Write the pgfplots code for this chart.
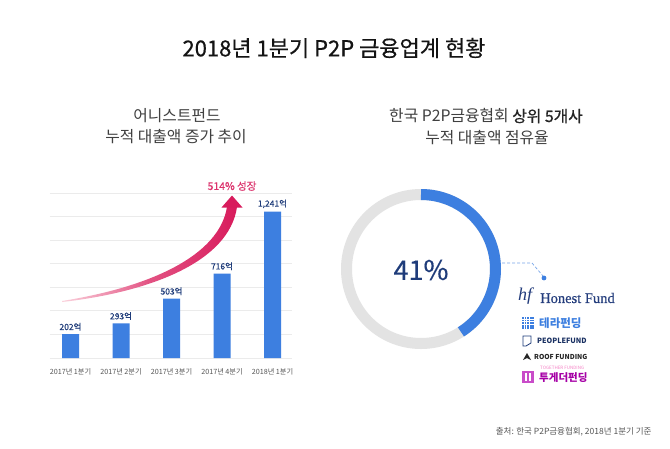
\documentclass[border=0pt]{standalone}
\usepackage{pgfplots}
\pgfplotsset{compat=1.18}
\usepackage{fontspec}
\setmainfont{Noto Sans CJK KR}
\newfontfamily\medfont[FakeBold=0.45]{Noto Sans CJK KR}
\newfontfamily\boldish[FakeBold=0.9]{Noto Sans CJK KR}
\newfontfamily\seriff{Liberation Serif}
\newfontfamily\seriffmed[FakeBold=0.5]{Liberation Serif}
\definecolor{barblue}{HTML}{3D7FE0}
\definecolor{navy}{HTML}{1F3C7A}
\definecolor{gridgray}{HTML}{EBEBEB}
\definecolor{ringgray}{HTML}{E3E3E3}
\definecolor{crimson}{HTML}{D81B5C}
\definecolor{paleink}{HTML}{FBD3DD}
\definecolor{txtgray}{HTML}{555555}
\definecolor{hfnavy}{HTML}{233C7C}
\begin{document}
\begin{tikzpicture}[x=1pt,y=1pt]
\useasboundingbox (0,0) rectangle (670,-448);
\fill[white] (0,0) rectangle (670,-448);
% title
\node[font=\medfont\fontsize{22}{26}\selectfont, text=black!92] at (334,-48) {2018년 1분기 P2P 금융업계 현황};
% subtitles
\node[font=\fontsize{15.8}{18}\selectfont, text=black!75] at (177,-116) {어니스트펀드};
\node[font=\fontsize{15.8}{18}\selectfont, text=black!75] at (176,-137) {누적 대출액 증가 추이};
\node[font=\fontsize{15.8}{18}\selectfont, text=black!75] at (486,-116) {한국 P2P금융협회 {\boldish\color{black!85}상위 5개사}};
\node[font=\fontsize{15.8}{18}\selectfont, text=black!75] at (487,-138) {누적 대출액 점유율};
% bar chart
\begin{axis}[
  at={(50pt,-358pt)}, anchor=south west,
  scale only axis, width=242pt, height=165pt,
  xmin=-0.406, xmax=4.386, ymin=0, ymax=1400,
  axis line style={draw=none},
  tick style={draw=none},
  ytick={0,200,...,1400}, yticklabels={},
  ymajorgrids, major grid style={color=gridgray, line width=0.8pt},
  xtick={0,1,2,3,4},
  xticklabels={2017년 1분기,2017년 2분기,2017년 3분기,2017년 4분기,2018년 1분기},
  xticklabel style={font=\fontsize{7.2}{8}\selectfont, text=txtgray, yshift=-7pt},
  /pgf/number format/assume math mode=true,
  /pgf/number format/1000 sep={,},
  nodes near coords={\pgfmathprintnumber{\pgfplotspointmeta}억},
  nodes near coords style={font=\medfont\fontsize{8.5}{9}\selectfont, text=navy, yshift=0pt},
]
\addplot[ybar, bar width=17pt, fill=barblue, draw=none] coordinates {(0,202) (1,293) (2,503) (3,716) (4,1241)};
\end{axis}
% growth arrow
\shade[left color=paleink, right color=crimson, middle color=crimson!70!paleink]
  (62,-302) .. controls (150,-292) and (229,-262) .. (237,-207)
  -- (227,-207) .. controls (219,-256) and (150,-287) .. (62,-301) -- cycle;
\fill[crimson] (221.5,-207.5) -- (242.5,-207.5) -- (232,-195.5) -- cycle;
\node[font=\medfont\fontsize{10.5}{12}\selectfont, text=crimson!90!white] at (232,-186) {514\% 성장};
% donut
\pgfmathsetmacro\share{41}
\draw[ringgray, line width=11pt] (421,-269) circle[radius=74.5];
\draw[barblue, line width=11pt] (421,-269) ++(90:74.5) arc[start angle=90, end angle={90-3.6*\share}, radius=74.5];
\node[font=\medfont\fontsize{27}{30}\selectfont, text=navy] at (421,-270) {41\%};
\draw[barblue!70!white, dashed, dash pattern=on 3pt off 2pt, line width=0.7pt] (502,-263) -- (532,-263) -- (543,-276);
\fill[barblue] (544,-278) circle[radius=2.4];
% logos
\node[font=\seriff\itshape\fontsize{18}{19}\selectfont, text=hfnavy, anchor=west, inner sep=0pt] at (518,-296) {hf};
\node[font=\seriffmed\fontsize{14.5}{15}\selectfont, text=hfnavy, anchor=west, inner sep=0pt] at (540,-298) {Honest Fund};
\foreach \i in {0,...,4}{\foreach \j in {0,...,4}{\fill[barblue] (522+2.6*\i,-317-2.6*\j) rectangle ++(1.8,-1.8);}}
\node[font=\fontsize{11.5}{12}\selectfont\bfseries, text=barblue, anchor=west, inner sep=0pt] at (539,-323) {테라펀딩};
\draw[navy, line width=0.8pt] (523,-336) -- (531,-336) -- (531,-343) -- (526,-346) -- (523,-346) -- cycle;
\node[font=\fontsize{7.2}{8}\selectfont\bfseries, text=navy!80!black, anchor=west, inner sep=0pt] at (537,-341) {PEOPLEFUND};
\fill[black!85] (523,-360) -- (527,-353) -- (531,-360) -- (527,-358) -- cycle;
\node[font=\fontsize{6.8}{7}\selectfont\bfseries, text=black!85, anchor=west, inner sep=0pt] at (534,-357) {ROOF FUNDING};
\fill[violet!60!magenta!70] (522,-371) rectangle (534,-383);
\fill[white] (525,-373) rectangle (526.5,-381);
\fill[white] (529,-373) rectangle (530.5,-381);
\node[font=\fontsize{4.5}{5}\selectfont, text=magenta!50, anchor=west, inner sep=0pt] at (540,-368) {TOGETHER FUNDING};
\node[font=\fontsize{10.5}{11}\selectfont\bfseries, text=violet!70!magenta, anchor=west, inner sep=0pt] at (539,-378) {투게더펀딩};
% source
\node[font=\fontsize{8.5}{9}\selectfont, text=txtgray, anchor=east] at (655,-432) {출처: 한국 P2P금융협회, 2018년 1분기 기준};
\end{tikzpicture}
\end{document}
